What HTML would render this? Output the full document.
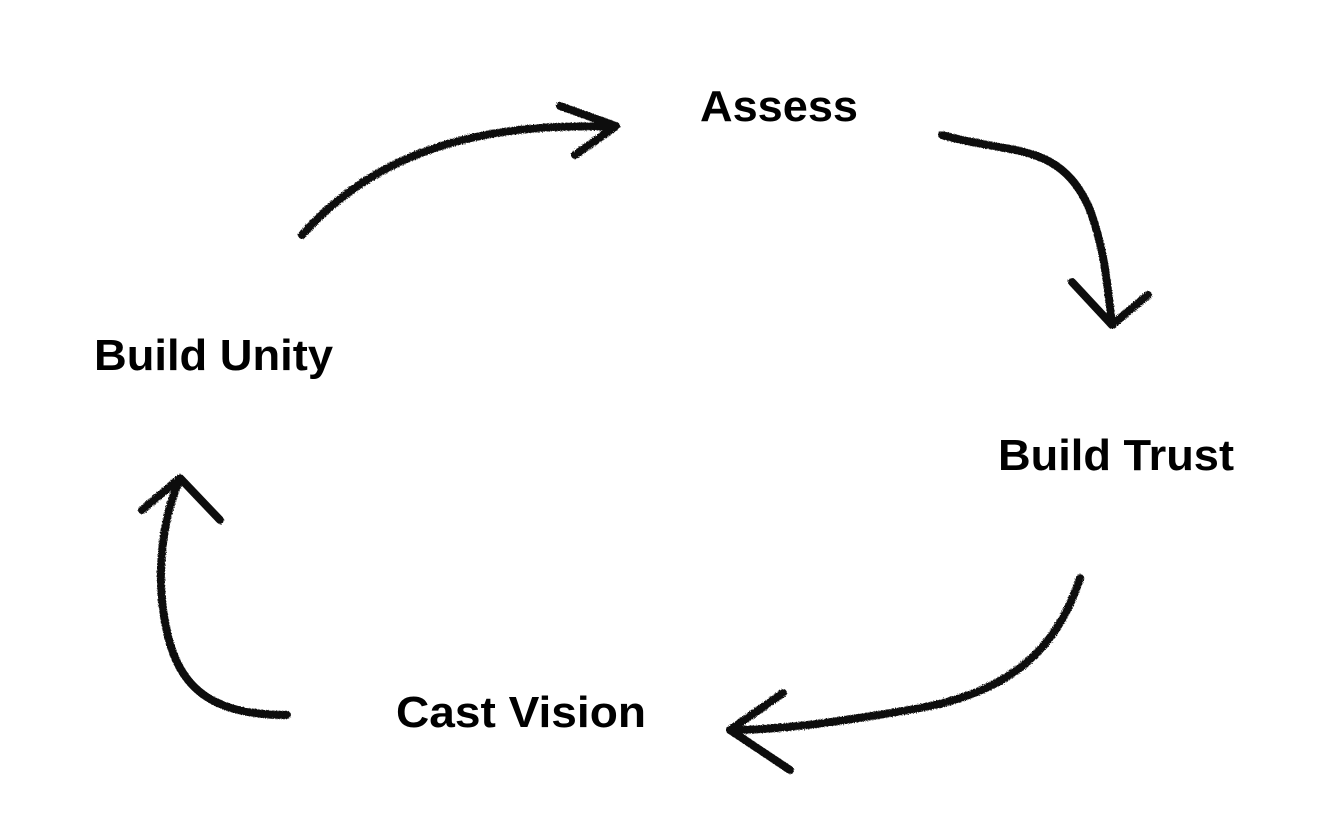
<!DOCTYPE html>
<html><head><meta charset="utf-8"><style>
html,body{margin:0;padding:0;background:#fff;}
svg{display:block;}
text{font-family:"Liberation Sans",sans-serif;font-weight:bold;fill:#000;}
</style></head><body>
<svg width="1328" height="840" viewBox="0 0 1328 840" xmlns="http://www.w3.org/2000/svg">
<defs>
<filter id="rough" x="-5%" y="-5%" width="110%" height="110%">
<feTurbulence type="fractalNoise" baseFrequency="0.9" numOctaves="2" result="n"/>
<feDisplacementMap in="SourceGraphic" in2="n" scale="3"/>
</filter>
</defs>
<g fill="none" stroke="#111" stroke-width="8" stroke-linecap="round" stroke-linejoin="round" filter="url(#rough)">
<path d="M302 235 C 360 170, 450 120, 615 127"/>
<path d="M560 106 L616 126 L575 155"/>
<path d="M942 135 C 1010 155, 1060 140, 1090 210 C 1105 250, 1108 290, 1112 325"/>
<path d="M1072 282 L1112 325 L1148 295"/>
<path d="M1080 578 C 1060 640, 1020 690, 920 708 C 840 722, 780 730, 730 730"/>
<path d="M783 693 L730 730 L790 770"/>
<path d="M287 715 C 200 715, 170 680, 162 600 C 158 560, 165 510, 180 480"/>
<path d="M142 510 L180 478 L220 520"/>
</g>
<text x="700" y="121" font-size="44" textLength="158" lengthAdjust="spacingAndGlyphs">Assess</text>
<text x="94" y="370" font-size="44" textLength="239" lengthAdjust="spacingAndGlyphs">Build Unity</text>
<text x="998" y="470" font-size="44" textLength="236" lengthAdjust="spacingAndGlyphs">Build Trust</text>
<text x="396" y="727" font-size="44" textLength="250" lengthAdjust="spacingAndGlyphs">Cast Vision</text>
</svg>
</body></html>
